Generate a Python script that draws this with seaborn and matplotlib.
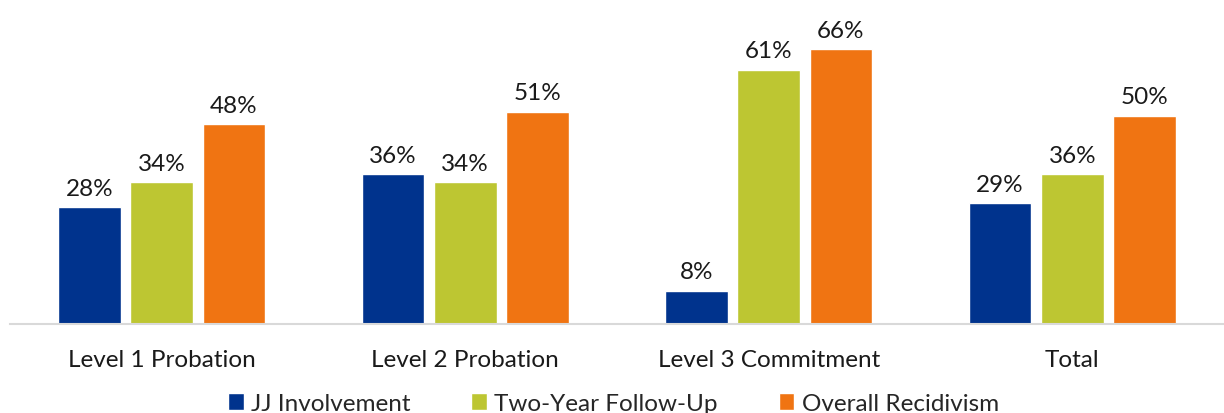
import pandas as pd
import matplotlib.pyplot as plt
import seaborn as sns

# Data
groups = ['Level 1 Probation', 'Level 2 Probation', 'Level 3 Commitment', 'Total']
series = ['JJ Involvement', 'Two-Year Follow-Up', 'Overall Recidivism']
jj_involvement = [28, 36, 8, 29]
two_year = [34, 34, 61, 36]
overall = [48, 51, 66, 50]
colors = ['#00338D', '#BDC632', '#F07412']

df = pd.DataFrame({
    'Group': groups * 3,
    'Series': [series[0]] * 4 + [series[1]] * 4 + [series[2]] * 4,
    'Value': jj_involvement + two_year + overall,
})

sns.set_style('white')
plt.rcParams['font.family'] = ['Lato', 'DejaVu Sans']

fig = plt.figure(figsize=(12.24, 4.14), dpi=100)
ax = fig.add_axes([10 / 1224, 89 / 414, 1214 / 1224, 325 / 414])

sns.barplot(data=df, x='Group', y='Value', hue='Series', order=groups,
            hue_order=series, palette=colors, width=0.714, gap=0.13,
            saturation=1, ax=ax, legend=True)

for cont in ax.containers:
    ax.bar_label(cont, labels=[f'{v:.0f}%' for v in cont.datavalues],
                 padding=6, fontsize=17.5, color='#1a1a1a')

ax.set_xlim(-0.5, 3.5)
ax.set_ylim(0, 78)
ax.set_xlabel('')
ax.set_ylabel('')
ax.set_yticks([])
for s in ['top', 'right', 'left']:
    ax.spines[s].set_visible(False)
ax.spines['bottom'].set_color('#D9D9D9')
ax.spines['bottom'].set_linewidth(1.5)
ax.tick_params(axis='x', length=0, labelsize=17.5, pad=18, labelcolor='#1a1a1a')

ax.legend(loc='lower center', bbox_to_anchor=(0.497, -90 / 325), ncol=3,
          frameon=False, fontsize=17.5, handlelength=0.65, handleheight=0.65,
          handletextpad=0.3, columnspacing=2.5, borderaxespad=0, borderpad=0)

fig.savefig('out.png', dpi=100)
